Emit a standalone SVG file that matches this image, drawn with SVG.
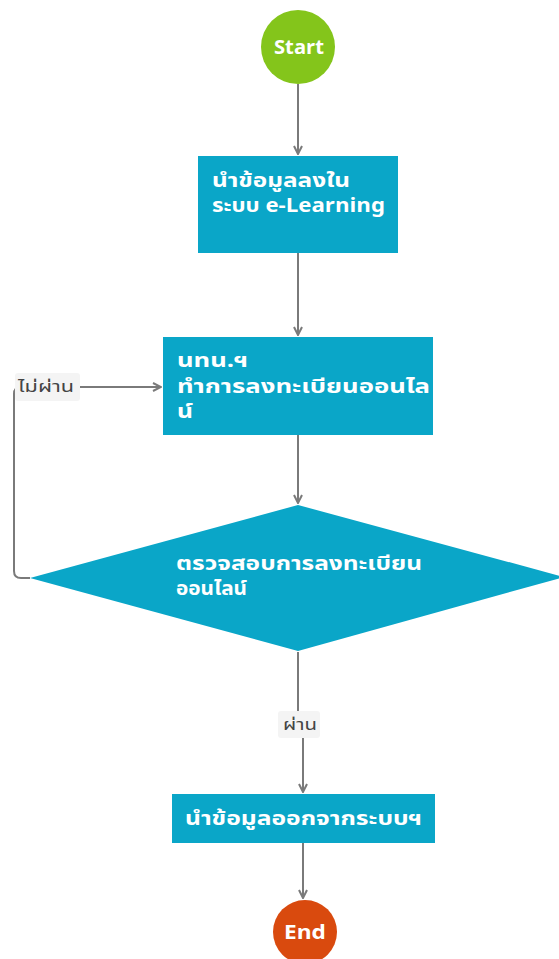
<svg xmlns="http://www.w3.org/2000/svg" width="559" height="959" viewBox="0 0 559 959">
<style>
.box{fill:#0aa6c8;}
.t{font-family:"Noto Sans Thai","Tahoma","DejaVu Sans","Liberation Sans",sans-serif;font-weight:bold;fill:#ffffff;font-size:19px;}
.c{fill:none;stroke:#7a7a7a;stroke-width:2;}
.lbl{fill:#f4f4f4;}
.lt{font-family:"Noto Sans Thai","Tahoma","DejaVu Sans","Liberation Sans",sans-serif;fill:#444444;font-size:15px;}
</style>
<defs>
<marker id="arr" markerWidth="10" markerHeight="10" refX="9" refY="5" orient="auto" markerUnits="userSpaceOnUse">
<path d="M1,1 L9,5 L1,9" fill="none" stroke="#7a7a7a" stroke-width="2"/>
</marker>
</defs>
<rect width="559" height="959" fill="#ffffff"/>
<g id="connectors">
<line class="c" x1="298" y1="84" x2="298" y2="154" marker-end="url(#arr)"/>
<line class="c" x1="298" y1="253" x2="298" y2="335" marker-end="url(#arr)"/>
<line class="c" x1="298" y1="435" x2="298" y2="503" marker-end="url(#arr)"/>
<path class="c" d="M30,578 H21 Q14,578 14,571 V394 Q14,387 21,387 H161" marker-end="url(#arr)"/>
<path class="c" d="M298,652 V725 H303 V792" marker-end="url(#arr)"/>
<line class="c" x1="303" y1="843" x2="303" y2="898" marker-end="url(#arr)"/>
<g id="label-fail">
<rect class="lbl" x="15" y="373" width="65" height="28" rx="3"/>
<text class="lt" x="18" y="392" textLength="56" lengthAdjust="spacingAndGlyphs">ไม่ผ่าน</text>
</g>
<g id="label-pass">
<rect class="lbl" x="278" y="711" width="42" height="27" rx="3"/>
<text class="lt" x="283" y="730" textLength="34" lengthAdjust="spacingAndGlyphs">ผ่าน</text>
</g>
</g>
<g id="start">
<circle cx="298" cy="47" r="37" fill="#84c51b"/>
<text class="t" x="274" y="54" textLength="50" lengthAdjust="spacingAndGlyphs">Start</text>
</g>
<g id="step1">
<rect class="box" x="198" y="156" width="200" height="97"/>
<text class="t" x="212" y="187" textLength="138" lengthAdjust="spacingAndGlyphs">นำข้อมูลลงใน</text>
<text class="t" x="212" y="212" textLength="173" lengthAdjust="spacingAndGlyphs">ระบบ e-Learning</text>
</g>
<g id="step2">
<rect class="box" x="163" y="337" width="270" height="98"/>
<text class="t" x="177" y="367" textLength="71" lengthAdjust="spacingAndGlyphs">นทน.ฯ</text>
<text class="t" x="177" y="393" textLength="253" lengthAdjust="spacingAndGlyphs">ทำการลงทะเบียนออนไล</text>
<text class="t" x="177" y="418" textLength="16" lengthAdjust="spacingAndGlyphs">น์</text>
</g>
<g id="decision">
<polygon class="box" points="298,505 564,577 298,651 30,578"/>
<text class="t" x="176" y="570" textLength="246" lengthAdjust="spacingAndGlyphs">ตรวจสอบการลงทะเบียน</text>
<text class="t" x="176" y="595" textLength="71" lengthAdjust="spacingAndGlyphs">ออนไลน์</text>
</g>
<g id="step3">
<rect class="box" x="172" y="794" width="263" height="49"/>
<text class="t" x="185" y="825" textLength="237" lengthAdjust="spacingAndGlyphs">นำข้อมูลออกจากระบบฯ</text>
</g>
<g id="end">
<circle cx="305" cy="932" r="32" fill="#d94a0e"/>
<text class="t" x="284" y="939" textLength="42" lengthAdjust="spacingAndGlyphs">End</text>
</g>
</svg>
